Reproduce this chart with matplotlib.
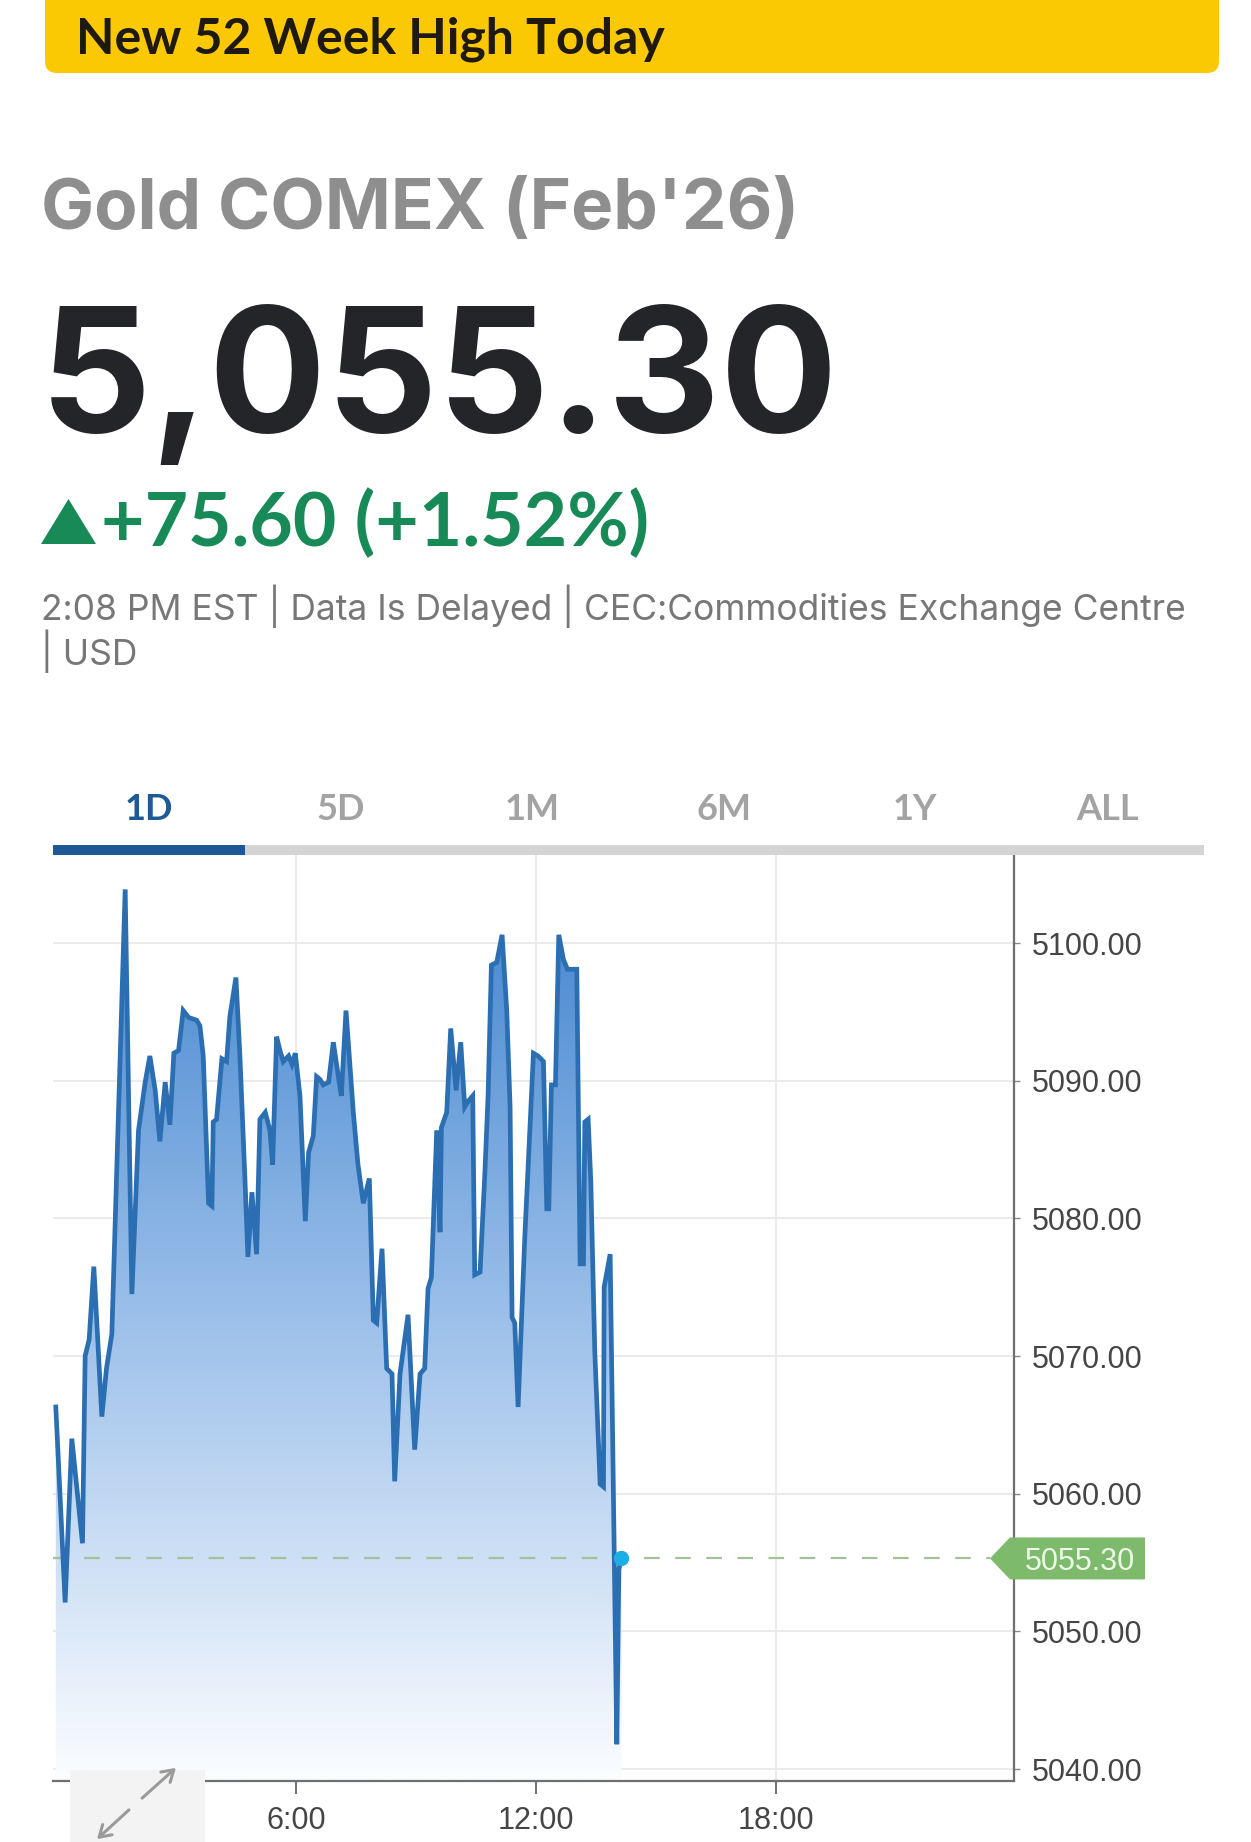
import matplotlib
matplotlib.use('Agg')
import matplotlib.pyplot as plt
import numpy as np
from matplotlib.patches import FancyBboxPatch, Rectangle, Polygon, PathPatch, FancyArrowPatch
from matplotlib.transforms import IdentityTransform
from matplotlib.colors import LinearSegmentedColormap
from matplotlib.ticker import FuncFormatter

# ---------------- data ----------------
time_minutes = [0, 14, 24, 40, 44, 50, 57, 69, 76, 84, 104, 114, 124, 134, 141, 149, 156, 164,
                171, 177, 184, 191, 199, 211, 216, 221, 229, 234, 236, 241, 249, 256, 261, 270,
                276, 284, 288, 294, 301, 306, 314, 321, 325, 331, 336, 341, 349, 354, 359, 366,
                374, 379, 386, 391, 396, 401, 409, 416, 423, 428, 435, 446, 453, 461, 470, 476,
                481, 489, 496, 504, 508, 516, 528, 538, 546, 553, 558, 563, 571, 576, 578, 586,
                592, 600, 607, 613, 618, 625, 628, 636, 643, 648, 653, 661, 669, 676, 681, 684,
                688, 693, 703, 711, 716, 723, 731, 736, 739, 743, 749, 754, 761, 767, 781, 786,
                791, 793, 798, 802, 808, 816, 821, 822, 831, 841, 844, 848]
prices = [5066.3, 5052.1, 5064.0, 5056.4, 5070.0, 5071.2, 5076.5, 5065.6, 5069.1, 5071.6,
          5103.9, 5074.5, 5086.4, 5089.9, 5091.8, 5089.3, 5085.6, 5089.9, 5086.8, 5092.0,
          5092.2, 5095.1, 5094.6, 5094.4, 5094.0, 5091.8, 5081.1, 5080.9, 5087.0, 5087.2,
          5091.6, 5091.4, 5094.7, 5097.5, 5091.8, 5082.3, 5077.2, 5081.9, 5077.4, 5087.2,
          5087.7, 5086.4, 5083.9, 5093.2, 5092.2, 5091.4, 5091.8, 5091.2, 5092.0, 5088.9,
          5079.8, 5084.8, 5086.0, 5090.3, 5090.1, 5089.7, 5089.9, 5092.8, 5090.5, 5088.9,
          5095.1, 5087.7, 5083.9, 5081.1, 5082.9, 5072.6, 5072.4, 5077.8, 5069.1, 5068.7,
          5060.9, 5068.7, 5073.0, 5063.2, 5068.7, 5069.1, 5074.9, 5075.7, 5086.4, 5079.0,
          5086.6, 5087.7, 5093.8, 5089.3, 5092.8, 5088.1, 5088.5, 5088.9, 5075.9, 5076.1,
          5083.1, 5088.9, 5098.4, 5098.6, 5100.6, 5095.1, 5088.1, 5072.8, 5072.4, 5066.3,
          5078.6, 5086.8, 5092.0, 5091.8, 5091.4, 5080.7, 5080.7, 5089.7, 5089.7, 5100.6,
          5098.8, 5098.1, 5098.1, 5076.7, 5076.7, 5087.0, 5087.2, 5082.7, 5070.3, 5060.7,
          5060.5, 5075.0, 5077.4, 5041.8, 5054.5, 5055.3]
last_price = 5055.30
change = 75.60
change_pct = 1.52
y_ticks = [5040, 5050, 5060, 5070, 5080, 5090, 5100]
x_tick_hours = [6, 12, 18]
x_tick_labels = ['6:00', '12:00', '18:00']
tabs = ['1D', '5D', '1M', '6M', '1Y', 'ALL']
banner_text = 'New 52 Week High Today'
title_text = "Gold COMEX (Feb'26)"
info_line1 = '2:08 PM EST | Data Is Delayed | CEC:Commodities Exchange Centre'
info_line2 = '| USD'

# ---------------- figure ----------------
W, H = 1251, 1842
fig = plt.figure(figsize=(W / 100, H / 100), dpi=100)
fig.patch.set_facecolor('white')
ID = IdentityTransform()
LATO = ['Lato', 'DejaVu Sans']
INTER = ['Inter', 'Lato', 'DejaVu Sans']
SANS = ['Liberation Sans', 'DejaVu Sans']


def fy(y):
    return 1 - y / H


# banner
fig.patches.append(FancyBboxPatch((45, H - 73), 1174, 110,
                                  boxstyle='round,pad=0,rounding_size=12',
                                  transform=ID, facecolor='#FBC804', edgecolor='none'))
fig.text(76 / W, fy(53), banner_text, fontsize=36, fontweight='bold', color='#1f1a10',
         family=LATO, va='baseline')

# headline texts
fig.text(41 / W, fy(229), title_text, fontsize=51, fontweight='bold', color='#8e8e8e',
         family=INTER, va='baseline')
fig.text(40 / W, fy(432), f'{last_price:,.2f}', fontsize=125.5, fontweight='bold',
         color='#232528', family=INTER, va='baseline')
fig.patches.append(Polygon([(41, H - 544), (96, H - 544), (68.5, H - 499)], closed=True,
                           transform=ID, facecolor='#178a57', edgecolor='none'))
fig.text(101 / W, fy(546), f'+{change:.2f} (+{change_pct:.2f}%)', fontsize=54,
         fontweight='bold', color='#178a57', family=LATO, va='baseline')
fig.text(41 / W, fy(620), info_line1, fontsize=25.5, color='#777777', family=INTER, va='baseline')
fig.text(41 / W, fy(665), info_line2, fontsize=25.5, color='#777777', family=INTER, va='baseline')

# tabs
tab_x = [149, 341, 532, 724, 915, 1108]
for i, (t, cx) in enumerate(zip(tabs, tab_x)):
    fig.text(cx / W, fy(820), t, fontsize=26, fontweight='bold',
             color='#1d5a96' if i == 0 else '#a3a3a3', family=LATO, ha='center', va='baseline')
fig.patches.append(Rectangle((53, H - 855), 1151, 10, transform=ID, facecolor='#d4d4d4',
                             edgecolor='none'))
fig.patches.append(Rectangle((53, H - 855), 192, 10, transform=ID, facecolor='#1d5897',
                             edgecolor='none'))

# ---------------- chart ----------------
ax = fig.add_axes([53 / W, 1 - 1781 / H, (1014 - 53) / W, (1781 - 855) / H])
hours = np.array(time_minutes) / 60.0
x0, x1 = -0.07, 23.94
y0, y1 = 5039.13, 5106.4
ax.set_xlim(x0, x1)
ax.set_ylim(y0, y1)

cmap = LinearSegmentedColormap.from_list('g', [(0, '#fbfdff'), (0.5, '#9cc0ea'), (1, '#3c80cc')])
grad = np.linspace(1, 0, 512).reshape(-1, 1)
im = ax.imshow(grad, extent=[x0, x1, y0, y1], aspect='auto', cmap=cmap, origin='upper',
               zorder=1, interpolation='bilinear')
fb = ax.fill_between(hours, prices, y0, facecolor='none', edgecolor='none')
clip = PathPatch(fb.get_paths()[0], transform=ax.transData, facecolor='none', edgecolor='none')
ax.add_patch(clip)
im.set_clip_path(clip)

ax.plot(hours, prices, color='#2b6fb2', lw=3.4, solid_joinstyle='miter', zorder=3)
ax.axhline(last_price, xmin=0.0, xmax=(990 - 53) / (1014 - 53), color='#a4c09a', lw=1.6,
           dashes=(7, 7), zorder=2)
ax.plot(hours[-1], prices[-1], 'o', color='#1eaee6', ms=10, zorder=5)

ax.set_yticks(y_ticks)
ax.set_xticks(x_tick_hours)
ax.set_xticklabels(x_tick_labels)
ax.yaxis.set_major_formatter(FuncFormatter(lambda v, p: f'{v:.2f}'))
ax.yaxis.tick_right()
ax.grid(True, color='#e9e9e9', lw=1.3, zorder=0)
ax.set_axisbelow(True)
for s in ['top', 'left']:
    ax.spines[s].set_visible(False)
for s in ['right', 'bottom']:
    ax.spines[s].set_color('#6f6f6f')
    ax.spines[s].set_linewidth(1.6)
ax.tick_params(axis='y', length=4.5, width=1, color='#888888', pad=8, labelsize=22,
               labelcolor='#454545')
ax.tick_params(axis='x', length=9, width=1.3, color='#666666', pad=9, labelsize=22,
               labelcolor='#454545')
for lab in ax.get_xticklabels() + ax.get_yticklabels():
    lab.set_family(SANS)

# price tag
yc = ax.transData.transform((0, last_price))[1]
fig.patches.append(Polygon([(990, yc), (1010, yc + 21), (1145, yc + 21), (1145, yc - 21),
                            (1010, yc - 21)], closed=True, transform=ID,
                           facecolor='#7dba6c', edgecolor='none', zorder=2))
fig.text(1080 / W, yc / H, f'{last_price:.2f}', fontsize=22, color='#eef8e8', family=SANS,
         ha='center', va='center_baseline', zorder=3)

# expand icon
fig.patches.append(Rectangle((70, 0), 135, H - 1770, transform=ID, facecolor='#f3f3f3',
                             edgecolor='none', zorder=2))
fig.add_artist(FancyArrowPatch((140, H - 1800), (178, H - 1766), transform=ID,
                               arrowstyle='->,head_length=8,head_width=5', color='#9a9a9a',
                               lw=2.2, zorder=3))
fig.add_artist(FancyArrowPatch((131, H - 1808), (95, H - 1841), transform=ID,
                               arrowstyle='->,head_length=8,head_width=5', color='#9a9a9a',
                               lw=2.2, zorder=3))

fig.savefig('out.png', dpi=100, facecolor='white')
